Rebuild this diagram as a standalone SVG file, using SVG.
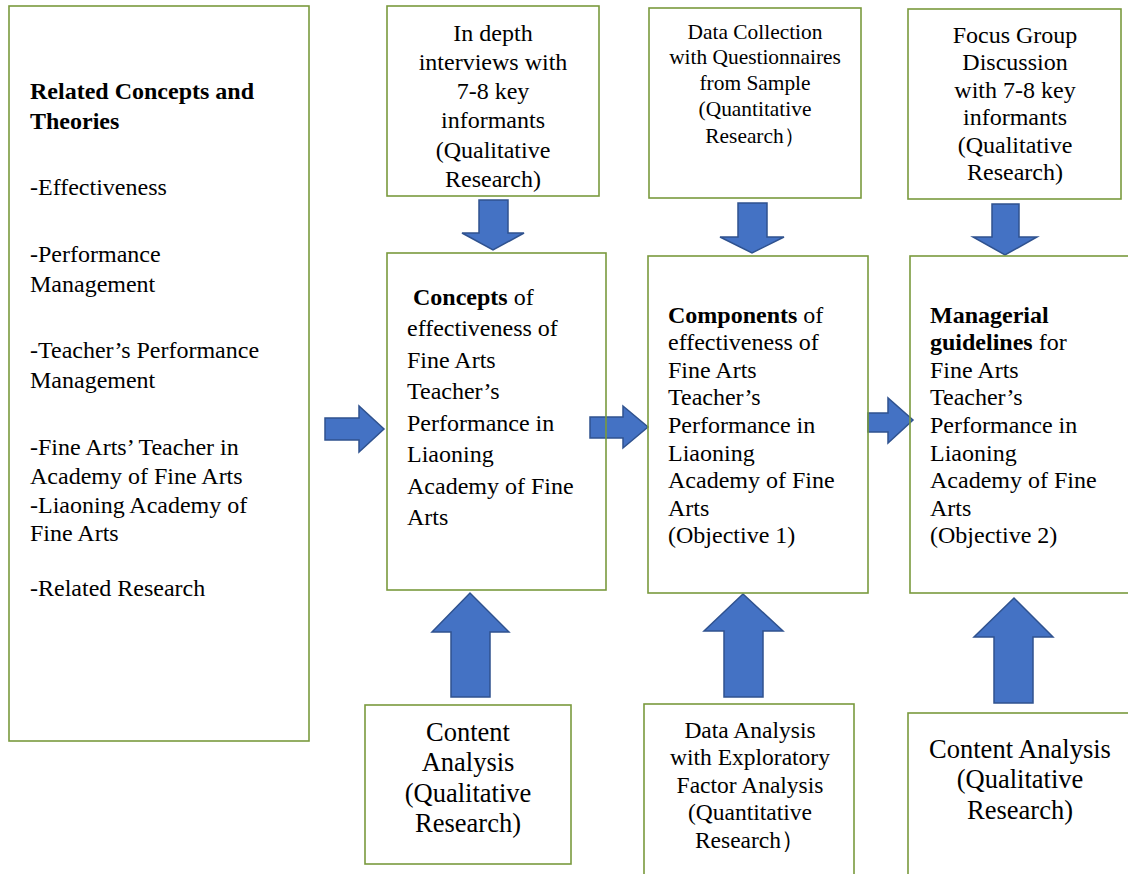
<svg xmlns="http://www.w3.org/2000/svg" width="1128" height="874" viewBox="0 0 1128 874">
<style>
.box{fill:none;stroke:#7A9A3E;stroke-width:1.6}
.arr{fill:#4472C4;stroke:#2F528F;stroke-width:1.5;stroke-linejoin:miter}
text{font-family:"Liberation Serif","Times New Roman",serif;fill:#000}
.c{text-anchor:middle}
.b{font-weight:bold}
</style>
<rect width="1128" height="874" fill="#fff"/>
<g id="connectors">
<path class="arr" d="M479,200 H508 V233 H524 L493,250 L462,233 H479 Z"/>
<path class="arr" d="M738,203 H767 V237 H784 L752,253 L720,237 H738 Z"/>
<path class="arr" d="M992,204 H1019 V237 H1037 L1005,255 L973,237 H992 Z"/>
<path class="arr" d="M325,418 H359 V406 L384,429 L359,452 V440 H325 Z"/>
<path class="arr" d="M590,417 H623 V406 L648,427 L623,448 V438 H590 Z"/>
<path class="arr" d="M868,413 H888 V398 L913,420 L888,443 V432 H868 Z"/>
<path class="arr" d="M451,697 V632 H432 L470,593 L509,632 H490 V697 Z"/>
<path class="arr" d="M724,697 V631 H704 L743,594 L783,631 H763 V697 Z"/>
<path class="arr" d="M994,703 V637 H974 L1014,598 L1053,637 H1033 V703 Z"/>
</g>
<g id="n-theories">
<rect class="box" x="9" y="6" width="300" height="735"/>
<g font-size="24">
<text x="30" y="99" class="b">Related Concepts and</text>
<text x="30" y="129" class="b">Theories</text>
<text x="30" y="195">-Effectiveness</text>
<text x="30" y="262">-Performance</text>
<text x="30" y="292">Management</text>
<text x="30" y="358">-Teacher’s Performance</text>
<text x="30" y="388">Management</text>
<text x="30" y="455">-Fine Arts’ Teacher in</text>
<text x="30" y="484">Academy of Fine Arts</text>
<text x="30" y="513">-Liaoning Academy of</text>
<text x="30" y="541">Fine Arts</text>
<text x="30" y="596">-Related Research</text>
</g>
</g>
<g id="n-interviews">
<rect class="box" x="387" y="6" width="212" height="190"/>
<g font-size="24" class="c">
<text x="493" y="41">In depth</text>
<text x="493" y="70">interviews with</text>
<text x="493" y="99">7-8 key</text>
<text x="493" y="128">informants</text>
<text x="493" y="158">(Qualitative</text>
<text x="493" y="187">Research)</text>
</g>
</g>
<g id="n-collection">
<rect class="box" x="649" y="8" width="212" height="190"/>
<g font-size="21.4" class="c">
<text x="755" y="39">Data Collection</text>
<text x="755" y="64">with Questionnaires</text>
<text x="755" y="90">from Sample</text>
<text x="755" y="116">(Quantitative</text>
<text x="755" y="143">Research）</text>
</g>
</g>
<g id="n-focus">
<rect class="box" x="908" y="9" width="213" height="190"/>
<g font-size="24" class="c">
<text x="1015" y="43">Focus Group</text>
<text x="1015" y="70">Discussion</text>
<text x="1015" y="98">with 7-8 key</text>
<text x="1015" y="125">informants</text>
<text x="1015" y="153">(Qualitative</text>
<text x="1015" y="180">Research)</text>
</g>
</g>
<g id="n-concepts">
<rect class="box" x="387" y="253" width="219" height="337"/>
<g font-size="24">
<text x="413" y="305"><tspan class="b">Concepts</tspan> of</text>
<text x="407" y="336">effectiveness of</text>
<text x="407" y="368">Fine Arts</text>
<text x="407" y="399">Teacher’s</text>
<text x="407" y="431">Performance in</text>
<text x="407" y="462">Liaoning</text>
<text x="407" y="494">Academy of Fine</text>
<text x="407" y="525">Arts</text>
</g>
</g>
<g id="n-components">
<rect class="box" x="648" y="256" width="220" height="337"/>
<g font-size="24">
<text x="668" y="323"><tspan class="b">Components</tspan> of</text>
<text x="668" y="350">effectiveness of</text>
<text x="668" y="378">Fine Arts</text>
<text x="668" y="405">Teacher’s</text>
<text x="668" y="433">Performance in</text>
<text x="668" y="461">Liaoning</text>
<text x="668" y="488">Academy of Fine</text>
<text x="668" y="516">Arts</text>
<text x="668" y="543">(Objective 1)</text>
</g>
</g>
<g id="n-guidelines">
<rect class="box" x="910" y="256" width="230" height="337"/>
<g font-size="24">
<text x="930" y="323" class="b">Managerial</text>
<text x="930" y="350"><tspan class="b">guidelines</tspan> for</text>
<text x="930" y="378">Fine Arts</text>
<text x="930" y="405">Teacher’s</text>
<text x="930" y="433">Performance in</text>
<text x="930" y="461">Liaoning</text>
<text x="930" y="488">Academy of Fine</text>
<text x="930" y="516">Arts</text>
<text x="930" y="543">(Objective 2)</text>
</g>
</g>
<g id="n-content1">
<rect class="box" x="365" y="705" width="206" height="159"/>
<g font-size="26.5" class="c">
<text x="468" y="741">Content</text>
<text x="468" y="771">Analysis</text>
<text x="468" y="802">(Qualitative</text>
<text x="468" y="832">Research)</text>
</g>
</g>
<g id="n-efa">
<rect class="box" x="644" y="704" width="210" height="190"/>
<g font-size="23.5" class="c">
<text x="750" y="738">Data Analysis</text>
<text x="750" y="765">with Exploratory</text>
<text x="750" y="793">Factor Analysis</text>
<text x="750" y="820">(Quantitative</text>
<text x="750" y="848">Research）</text>
</g>
</g>
<g id="n-content2">
<rect class="box" x="908" y="713" width="240" height="190"/>
<g font-size="26.5" class="c">
<text x="1020" y="758">Content Analysis</text>
<text x="1020" y="788">(Qualitative</text>
<text x="1020" y="819">Research)</text>
</g>
</g>
</svg>
